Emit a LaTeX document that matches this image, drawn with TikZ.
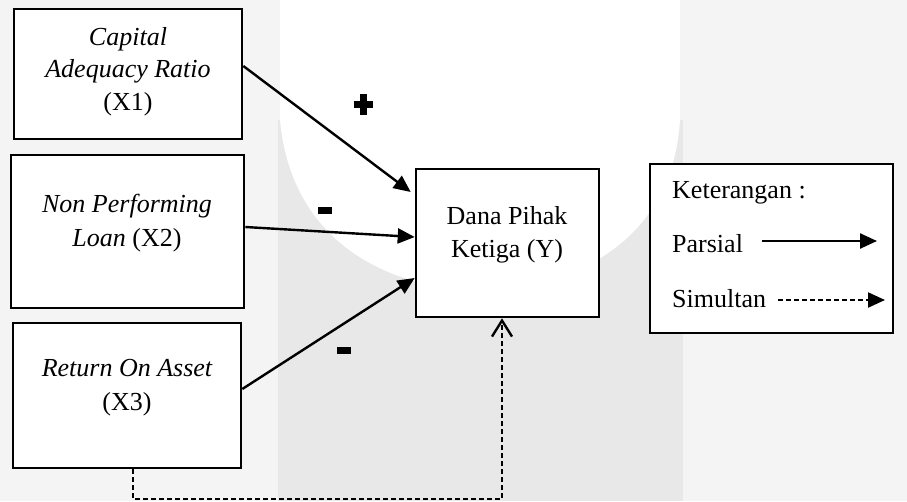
\documentclass[tikz,border=0pt]{standalone}
\usepackage{fontspec}
\setmainfont{Liberation Serif}
\usetikzlibrary{arrows.meta}
\definecolor{wmlight}{HTML}{F4F4F4}
\definecolor{wmdark}{HTML}{E8E8E8}
\begin{document}
\begin{tikzpicture}[x=1pt,y=-1pt,
  box/.style={draw, fill=white, line width=2.6pt, inner sep=0pt},
  lbl/.style={anchor=base, inner sep=0pt, font=\fontsize{26}{33}\selectfont},
  lgd/.style={anchor=base west, inner sep=0pt, font=\fontsize{26}{33}\selectfont},
  parsial/.style={line width=2.4pt, -{Triangle[length=17pt,width=15pt]}},
  simul/.style={line width=2.2pt, dash pattern=on 5pt off 3pt, -{Straight Barb[length=16pt,width=20pt,line width=2.4pt]}},
  lsimul/.style={line width=2.2pt, dash pattern=on 5pt off 3pt, -{Triangle[length=17pt,width=15pt]}},
  sign/.style={fill=black}
]
\useasboundingbox (0,0) rectangle (907,501);
% faint background watermark
\fill[wmlight] (0,0) rectangle (907,501);
\fill[wmdark] (278,120) rectangle (683,501);
\fill[white] (280,0) -- (680,0) -- (680,120) .. controls (672,250) and (560,290) .. (480,290) .. controls (400,290) and (292,250) .. (280,120) -- cycle;

% boxes
\node[box, minimum width=228pt, minimum height=130pt] (x1) at (128,74) {};
\node[box, minimum width=233pt, minimum height=153pt] (x2) at (127.5,231.5) {};
\node[box, minimum width=228pt, minimum height=145pt] (x3) at (127,395.5) {};
\node[box, minimum width=183pt, minimum height=148pt] (y) at (507.5,243) {};
\node[box, minimum width=243pt, minimum height=169pt] (leg) at (771.5,248.5) {};

% box texts
\node[lbl] (t1a) at (128,45) {\itshape Capital};
\node[lbl] (t1b) at (128,77) {\itshape Adequacy Ratio};
\node[lbl] (t1c) at (128,110) {(X1)};
\node[lbl] (t2a) at (127,212) {\itshape Non Performing};
\node[lbl] (t2b) at (127,246) {\textit{Loan} (X2)};
\node[lbl] (t3a) at (127,376) {\itshape Return On Asset};
\node[lbl] (t3b) at (127,410) {(X3)};
\node[lbl] (tya) at (507,224) {Dana Pihak};
\node[lbl] (tyb) at (507,257) {Ketiga (Y)};

% legend
\node[lgd] (lk) at (672,198) {Keterangan :};
\node[lgd] (lp) at (672,252) {Parsial};
\node[lgd] (ls) at (672,307) {Simultan};
\coordinate (lpa) at (762,241);
\coordinate (lpb) at (877,241);
\coordinate (lsa) at (778,300);
\coordinate (lsb) at (885,300);
\draw[parsial] (lpa) -- (lpb);
\draw[lsimul] (lsa) -- (lsb);

% partial arrows
\draw[parsial] ([yshift=8pt]x1.east) -- ([xshift=-4pt,yshift=51pt]y.west);
\draw[parsial] ([yshift=4.5pt]x2.east) -- ([yshift=6pt]y.west);
\draw[parsial] ([yshift=6.5pt]x3.east) -- ([yshift=-35pt]y.west);

% simultaneous arrow
\coordinate (c1) at (133,499);
\coordinate (c2) at (502,499);
\draw[simul] ([xshift=6pt]x3.south) -- (c1) -- (c2) -- ([xshift=-5.5pt]y.south);

% signs
\fill[sign] (354,101) rectangle (373,108);
\fill[sign] (360,94) rectangle (367,115);
\fill[sign] (318,207) rectangle (332,214);
\fill[sign] (337,347) rectangle (351,354);
\end{tikzpicture}
\end{document}
